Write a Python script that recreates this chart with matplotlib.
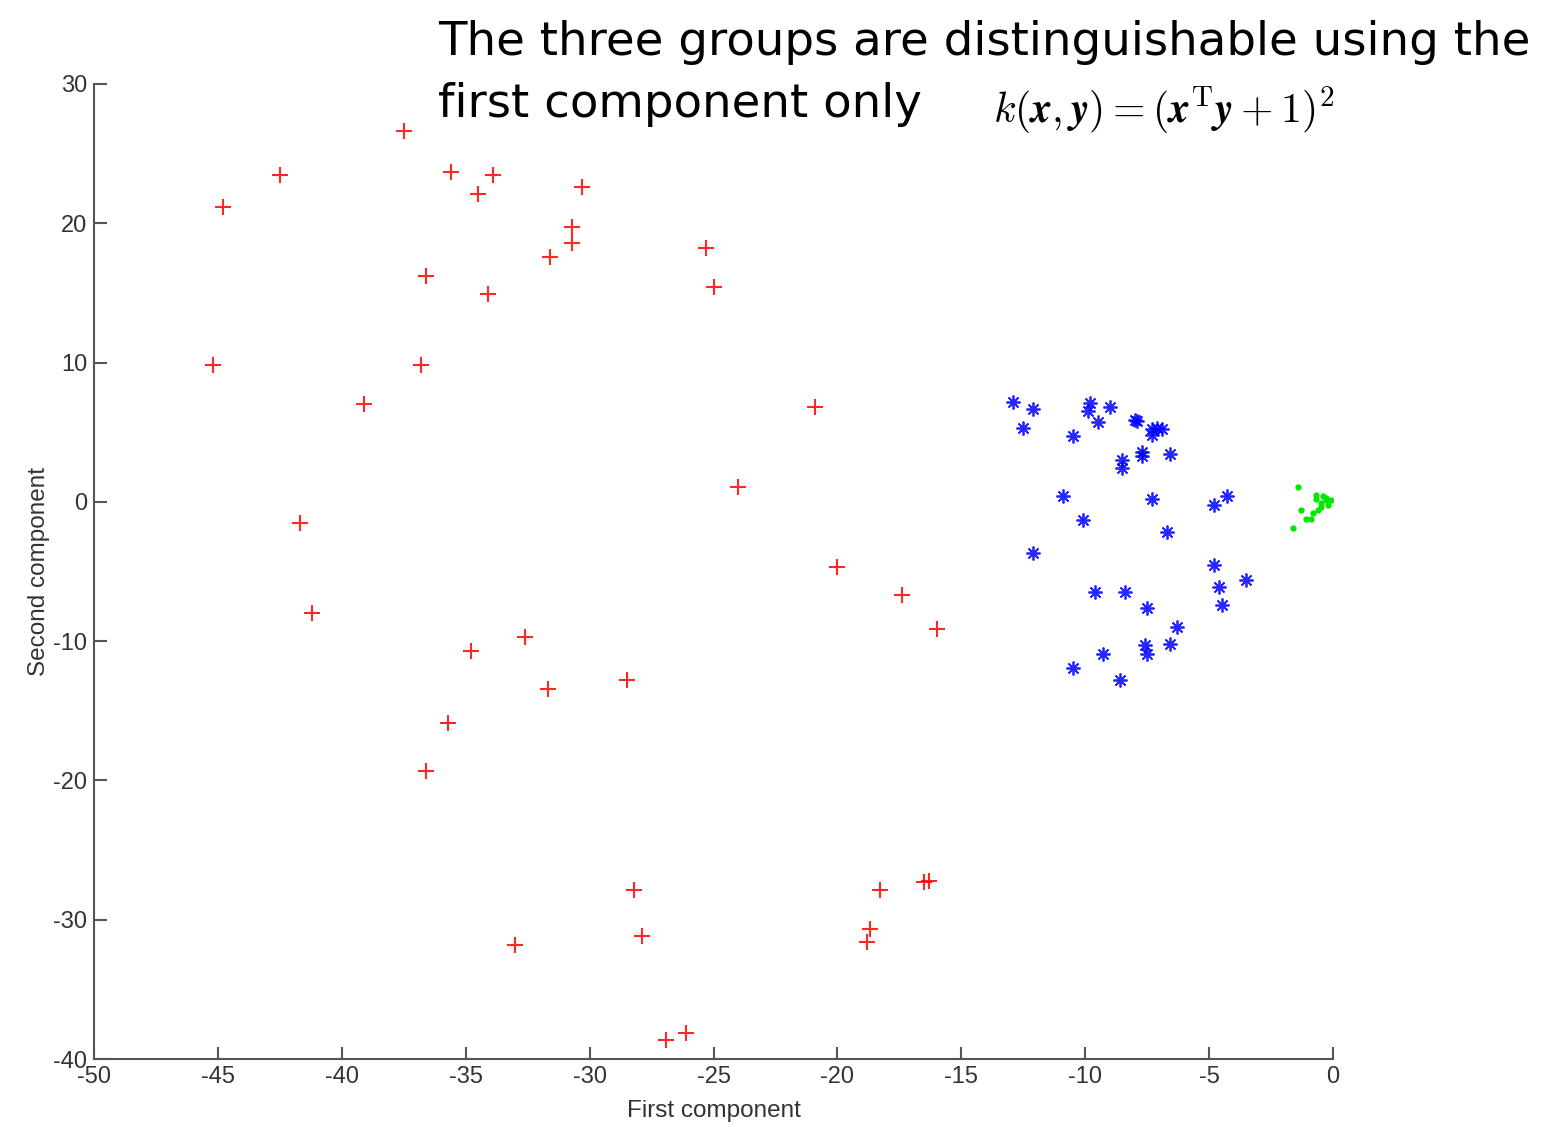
import numpy as np
import matplotlib
matplotlib.use("Agg")
import matplotlib.pyplot as plt

plt.rcParams['mathtext.fontset'] = 'cm'
plt.rcParams['axes.unicode_minus'] = False

# group 1 (red +)
red_x = [-37.5, -42.5, -44.8, -35.6, -33.9, -34.5, -30.3, -30.7, -30.7, -31.6,
         -36.6, -34.1, -25.3, -25.0, -45.2, -36.8, -39.1, -20.9, -24.0, -41.7,
         -41.2, -20.0, -17.4, -16.0, -32.6, -34.8, -31.7, -28.5, -35.7, -36.6,
         -28.2, -27.9, -33.0, -18.3, -18.7, -18.8, -16.5, -16.3, -26.9, -26.1]
red_y = [26.6, 23.5, 21.2, 23.7, 23.5, 22.1, 22.6, 19.7, 18.6, 17.6,
         16.2, 14.9, 18.2, 15.4, 9.8, 9.8, 7.0, 6.8, 1.1, -1.5,
         -8.0, -4.7, -6.7, -9.1, -9.7, -10.7, -13.4, -12.8, -15.9, -19.3,
         -27.9, -31.2, -31.8, -27.9, -30.7, -31.6, -27.3, -27.2, -38.6, -38.1]

# group 2 (blue *)
blue_x = [-12.9, -12.1, -12.5, -9.8, -9.9, -9.0, -9.5, -10.5, -8.0, -7.9,
          -7.3, -7.1, -6.9, -7.3, -7.7, -7.7, -6.6, -8.5, -8.5, -10.9,
          -7.3, -4.8, -4.3, -10.1, -6.7, -12.1, -4.8, -3.5, -4.6, -4.5,
          -9.6, -8.4, -7.5, -6.3, -6.6, -7.6, -7.5, -9.3, -10.5, -8.6]
blue_y = [7.2, 6.7, 5.3, 7.1, 6.5, 6.8, 5.7, 4.7, 5.9, 5.8,
          5.2, 5.3, 5.2, 4.8, 3.6, 3.3, 3.4, 3.0, 2.4, 0.4,
          0.2, -0.2, 0.4, -1.3, -2.2, -3.7, -4.5, -5.6, -6.1, -7.4,
          -6.5, -6.5, -7.6, -9.0, -10.2, -10.3, -10.9, -10.9, -11.9, -12.8]

# group 3 (green .)
green_x = [-1.4, -1.6, -1.3, -0.9, -0.7, -0.5, -0.3, -0.1, -0.6, -0.8, -0.4, -1.1,
           -0.2, -0.5, -0.7, -0.3]
green_y = [1.1, -1.9, -0.6, -1.2, 0.5, -0.1, 0.1, 0.1, -0.6, -0.8, 0.4, -1.2,
           -0.2, -0.4, 0.2, 0.3]

title_lines = ['The three groups are distinguishable using the', 'first component only']

fig = plt.figure(figsize=(15.49, 11.27), dpi=100)
ax = fig.add_axes([0.0607, 0.0603, 0.7999, 0.8652])

ax.plot(red_x, red_y, '+', color='red', markersize=11, markeredgewidth=1.5, alpha=0.85)
ax.plot(blue_x, blue_y, linestyle='none', marker=(8, 2, 0), color='blue',
        markersize=10, markeredgewidth=1.3, alpha=0.85)
ax.plot(green_x, green_y, '.', color=(0, 0.9, 0), markersize=7)

ax.set_xlim(-50, 0)
ax.set_ylim(-40, 30)
ax.set_xticks(np.arange(-50, 1, 5))
ax.set_yticks(np.arange(-40, 31, 10))

for s in ['top', 'right']:
    ax.spines[s].set_visible(False)
for s in ['left', 'bottom']:
    ax.spines[s].set_color('#555555')
    ax.spines[s].set_linewidth(1.5)
ax.tick_params(direction='in', length=9, width=1.5, color='#555555',
               labelsize=17, labelcolor='#333333', pad=5)
for lab in ax.get_xticklabels() + ax.get_yticklabels():
    lab.set_family('Liberation Sans')

ax.set_xlabel('First component', fontsize=17.5, color='#333333', family='Liberation Sans', labelpad=9)
ax.set_ylabel('Second component', fontsize=17.5, color='#333333', family='Liberation Sans', labelpad=2)

fig.text(438 / 1549, 1 - 55 / 1127, title_lines[0],
         fontsize=33.6, va='baseline', ha='left', family='DejaVu Sans')
fig.text(438 / 1549, 1 - 117 / 1127, title_lines[1],
         fontsize=33.6, va='baseline', ha='left', family='DejaVu Sans')
fig.text(993 / 1549, 1 - 110 / 1127,
         r'$k(\boldsymbol{x},\boldsymbol{y}) = (\boldsymbol{x}^{\mathrm{T}}\boldsymbol{y}+1)^2$',
         fontsize=30, va='center', ha='left')

fig.savefig('out.png', dpi=100)
